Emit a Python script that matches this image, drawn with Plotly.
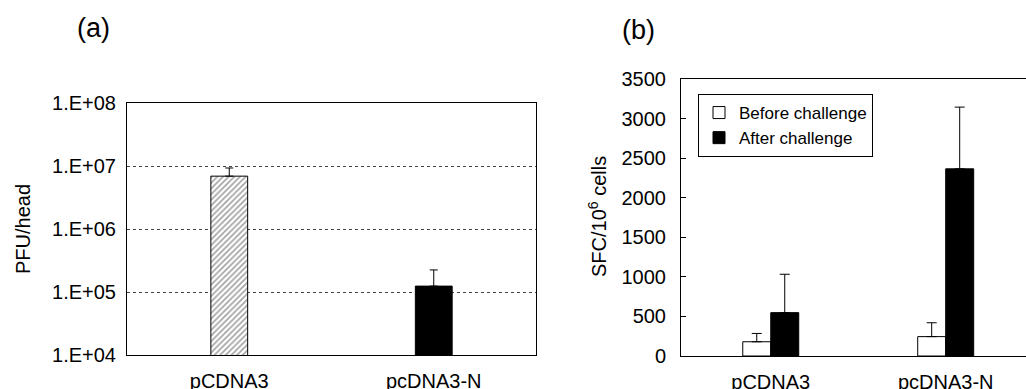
import plotly.graph_objects as go

W, H = 1026, 389
FONT = "Liberation Sans, Arial, sans-serif"

# Panel (a)
cats_a = ["pCDNA3", "pcDNA3-N"]
pfu = [6.9e6, 1.24e5]
pfu_err = [2.4e6, 1.0e5]
tick_vals_a = [1e4, 1e5, 1e6, 1e7, 1e8]
tick_text_a = ["1.E+04", "1.E+05", "1.E+06", "1.E+07", "1.E+08"]

# Panel (b)
cats_b = ["pCDNA3", "pcDNA3-N"]
before = [180, 245]
before_err = [105, 175]
after = [548, 2365]
after_err = [485, 780]
tick_vals_b = [0, 500, 1000, 1500, 2000, 2500, 3000, 3500]


def px_x(p):
    return p / W


def px_y(p):
    return 1 - p / H


fig = go.Figure()

fig.add_trace(go.Bar(
    x=cats_a, y=pfu, xaxis="x", yaxis="y", width=0.18,
    marker=dict(color=["white", "black"], line=dict(color="black", width=1),
                pattern=dict(shape=["/", ""], fgcolor="black", size=4, solidity=0.4)),
    error_y=dict(type="data", symmetric=False, array=pfu_err, arrayminus=[0, 0],
                 color="black", thickness=1, width=4),
    showlegend=False,
))

fig.add_trace(go.Bar(
    x=cats_b, y=before, xaxis="x2", yaxis="y2", width=0.16, offset=-0.16,
    name="Before challenge",
    marker=dict(color="white", line=dict(color="black", width=1)),
    error_y=dict(type="data", symmetric=False, array=before_err, arrayminus=[0, 0],
                 color="black", thickness=1, width=5),
))
fig.add_trace(go.Bar(
    x=cats_b, y=after, xaxis="x2", yaxis="y2", width=0.16, offset=0,
    name="After challenge",
    marker=dict(color="black", line=dict(color="black", width=1)),
    error_y=dict(type="data", symmetric=False, array=after_err, arrayminus=[0, 0],
                 color="black", thickness=1, width=5),
))

TICK = 20
fig.update_layout(
    width=W, height=H,
    margin=dict(l=0, r=0, t=0, b=0),
    paper_bgcolor="white", plot_bgcolor="white",
    font=dict(family=FONT, size=TICK, color="black"),
    barmode="overlay",
    xaxis=dict(domain=[px_x(127), px_x(536)], anchor="y", range=[-0.5, 1.5],
               showline=True, mirror=True, linecolor="black", linewidth=1,
               ticks="", showgrid=False, automargin=False,
               tickfont=dict(size=TICK), ticklabelstandoff=8),
    yaxis=dict(domain=[px_y(355), px_y(103)], anchor="x", type="log",
               range=[4, 8], tickvals=tick_vals_a, ticktext=tick_text_a,
               showline=True, mirror=True, linecolor="black", linewidth=1,
               showgrid=True, gridcolor="#444", griddash="3px,3px", gridwidth=1,
               ticks="", automargin=False, tickfont=dict(size=TICK),
               ticklabelstandoff=6),
    xaxis2=dict(domain=[px_x(681), 1.0], anchor="y2", range=[-0.513, 1.459],
                showline=True, mirror=True, linecolor="black", linewidth=1,
                ticks="", showgrid=False, automargin=False,
                tickfont=dict(size=TICK), ticklabelstandoff=8),
    yaxis2=dict(domain=[px_y(356), px_y(79)], anchor="x2", range=[0, 3500],
                tickvals=tick_vals_b,
                showline=True, mirror=False, linecolor="black", linewidth=1,
                showgrid=False, zeroline=False,
                ticks="inside", ticklen=5, tickcolor="black",
                automargin=False, tickfont=dict(size=TICK),
                ticklabelstandoff=10),
    legend=dict(x=px_x(698), y=px_y(94), xanchor="left", yanchor="top",
                bgcolor="white", bordercolor="black", borderwidth=1,
                font=dict(size=17), tracegroupgap=0),
    annotations=[
        dict(text="(a)", x=px_x(93), y=px_y(28), xref="paper", yref="paper",
             showarrow=False, font=dict(size=27), xanchor="center", yanchor="middle"),
        dict(text="(b)", x=px_x(638), y=px_y(30), xref="paper", yref="paper",
             showarrow=False, font=dict(size=27), xanchor="center", yanchor="middle"),
        dict(text="PFU/head", x=px_x(23), y=px_y(229), xref="paper", yref="paper",
             showarrow=False, textangle=-90, font=dict(size=20),
             xanchor="center", yanchor="middle"),
        dict(text="SFC/10<sup>6</sup> cells", x=px_x(598), y=px_y(217),
             xref="paper", yref="paper", showarrow=False, textangle=-90,
             font=dict(size=20), xanchor="center", yanchor="middle"),
    ],
)

fig.write_html(
    "out.html",
    config={"displayModeBar": False},
    post_script="document.body.style.margin='0';document.body.style.padding='0';",
)
